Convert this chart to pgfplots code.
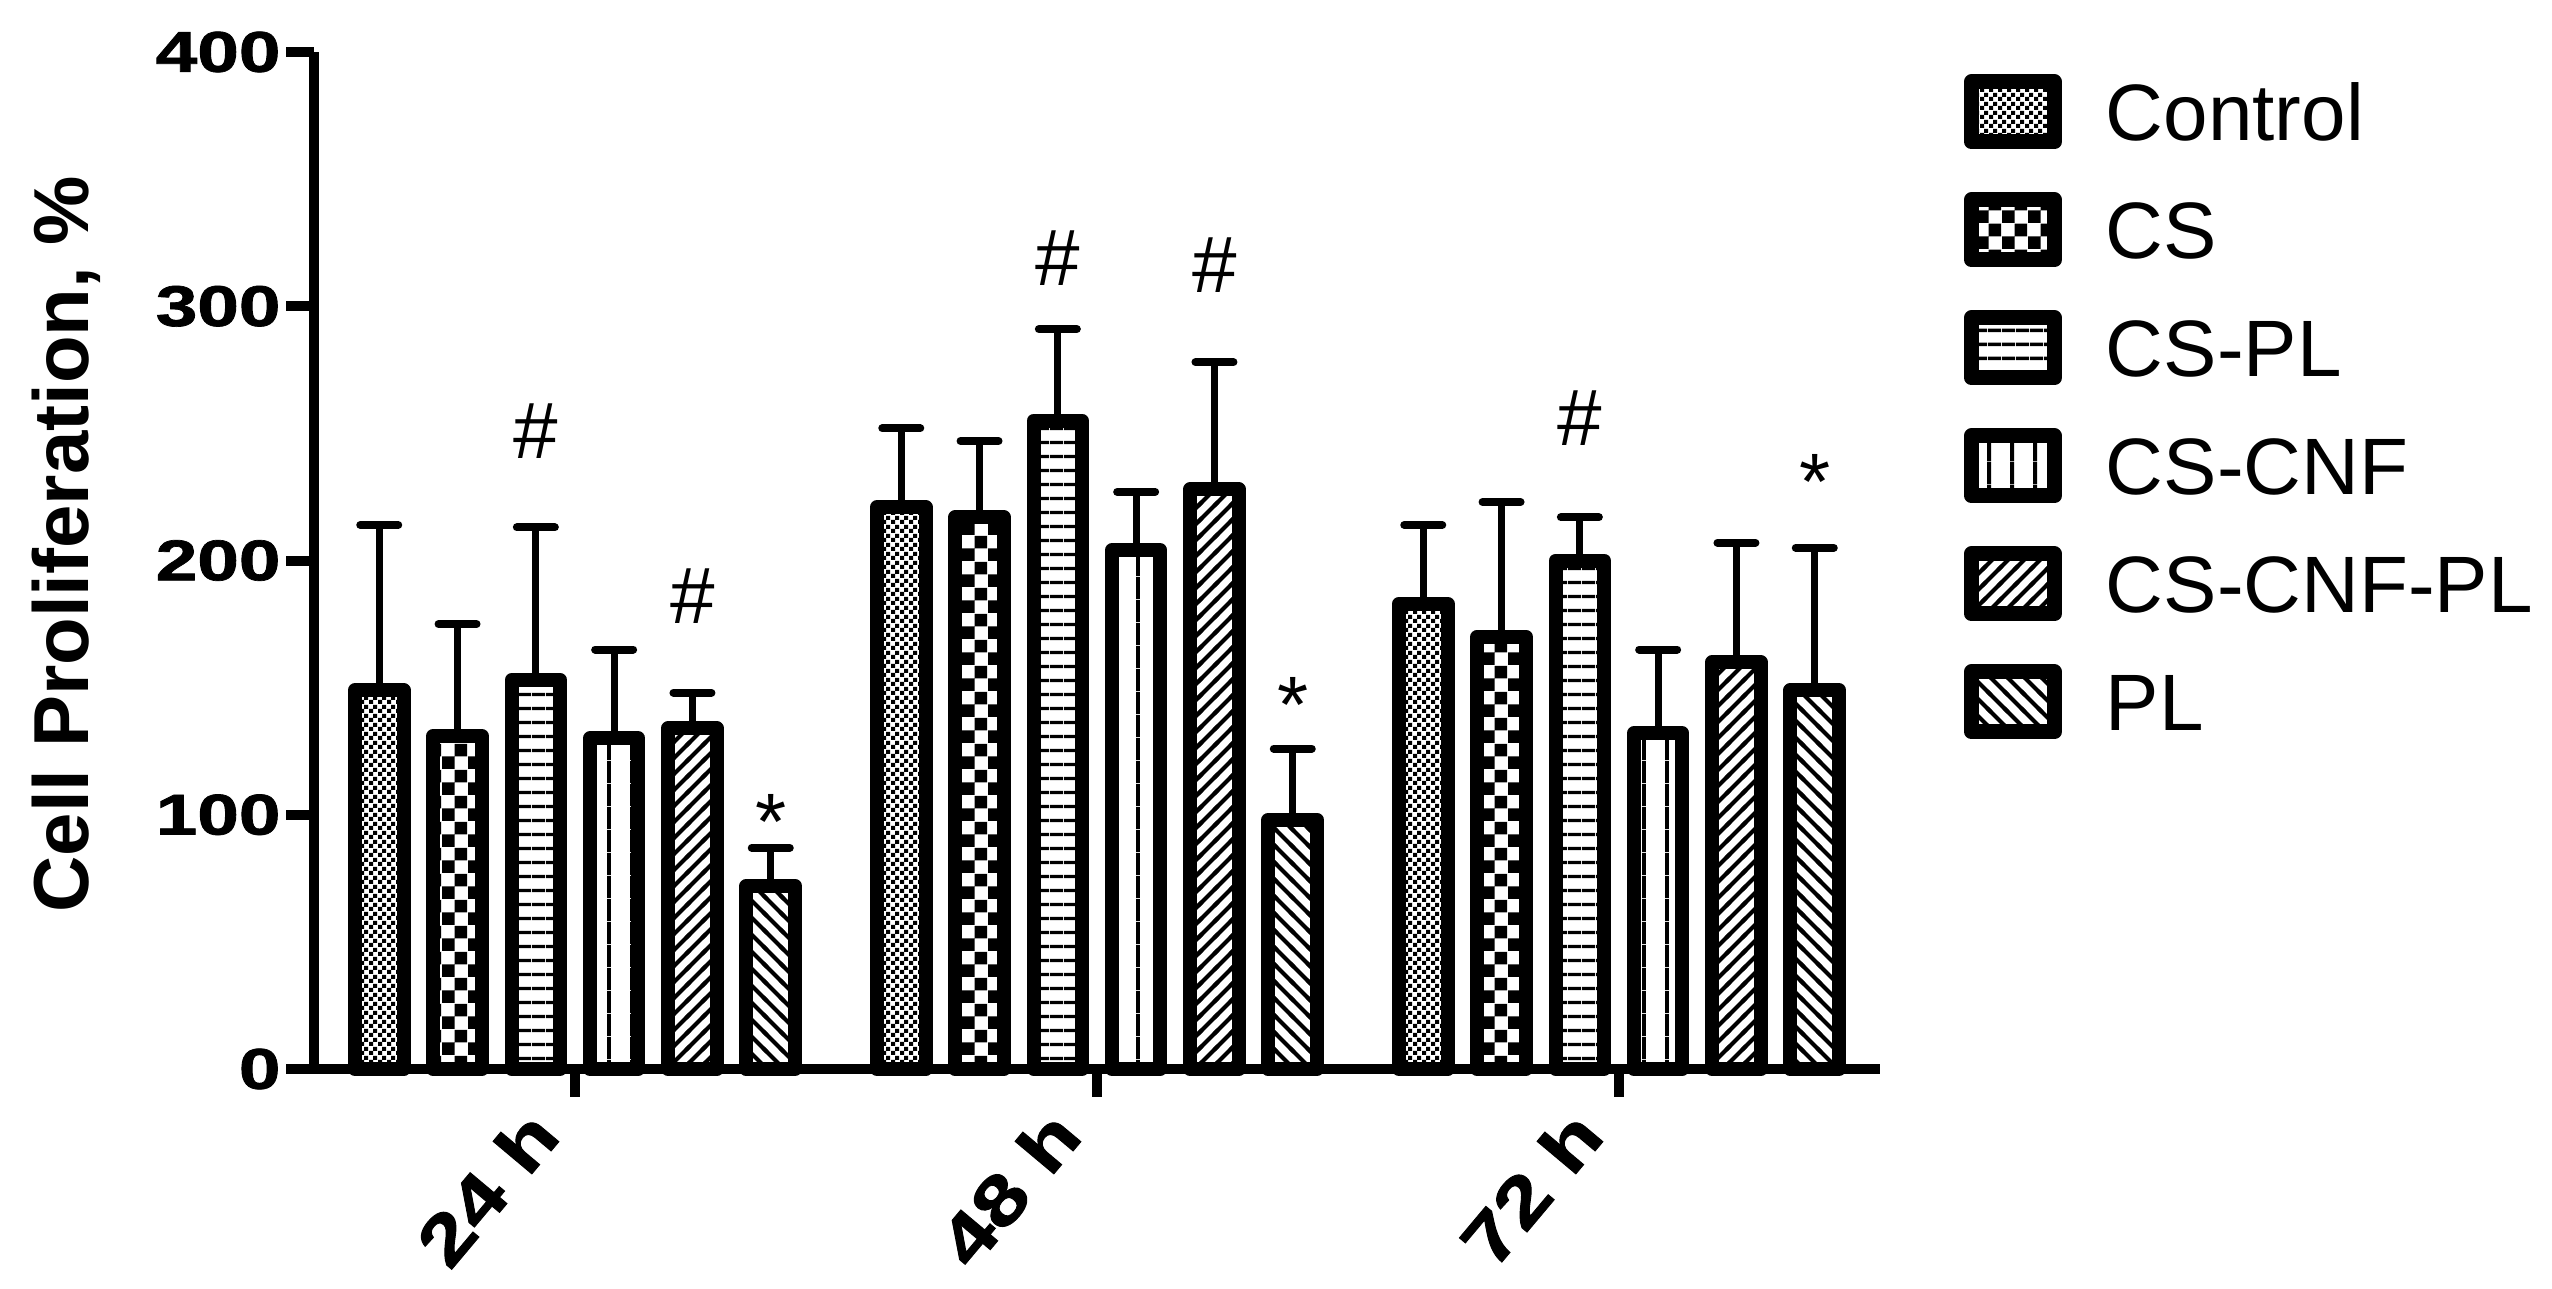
\documentclass[border=0pt]{standalone}
\usepackage{graphicx}
\usepackage{pgfplots}
\pgfplotsset{compat=1.18}
\usepackage{fontspec}
\setmainfont{Liberation Sans}
\newfontface\heavy[FakeBold=1.2]{Liberation Sans Bold}
\usetikzlibrary{patterns}

% custom fill patterns
\pgfdeclarepatternformonly{ctrlcheck}{\pgfpointorigin}{\pgfpoint{1.8pt}{1.8pt}}{\pgfpoint{1.8pt}{1.8pt}}{%
  \pgfpathrectangle{\pgfpointorigin}{\pgfpoint{0.9pt}{0.9pt}}%
  \pgfpathrectangle{\pgfpoint{0.9pt}{0.9pt}}{\pgfpoint{0.9pt}{0.9pt}}%
  \pgfusepath{fill}}
\pgfdeclarepatternformonly{cscheck}{\pgfpointorigin}{\pgfpoint{5.2pt}{5.2pt}}{\pgfpoint{5.2pt}{5.2pt}}{%
  \pgfpathrectangle{\pgfpointorigin}{\pgfpoint{2.6pt}{2.6pt}}%
  \pgfpathrectangle{\pgfpoint{2.6pt}{2.6pt}}{\pgfpoint{2.6pt}{2.6pt}}%
  \pgfusepath{fill}}
\pgfdeclarepatternformonly{hlinesB}{\pgfpointorigin}{\pgfpoint{2.8pt}{2.8pt}}{\pgfpoint{2.8pt}{2.8pt}}{%
  \pgfpathrectangle{\pgfpoint{0pt}{1.05pt}}{\pgfpoint{2.8pt}{0.7pt}}%
  \pgfusepath{fill}}
\pgfdeclarepatternformonly{vlinesB}{\pgfpointorigin}{\pgfpoint{4.6pt}{4.6pt}}{\pgfpoint{4.6pt}{4.6pt}}{%
  \pgfpathrectangle{\pgfpoint{1.9pt}{0pt}}{\pgfpoint{0.8pt}{4.6pt}}%
  \pgfusepath{fill}}
\pgfdeclarepatternformonly{nelinesB}{\pgfpoint{-1pt}{-1pt}}{\pgfpoint{4.2pt}{4.2pt}}{\pgfpoint{3.2pt}{3.2pt}}{%
  \pgfsetlinewidth{0.8pt}%
  \pgfpathmoveto{\pgfpoint{-0.4pt}{-0.4pt}}\pgfpathlineto{\pgfpoint{3.6pt}{3.6pt}}%
  \pgfusepath{stroke}}
\pgfdeclarepatternformonly{nwlinesB}{\pgfpoint{-1pt}{-1pt}}{\pgfpoint{4.4pt}{4.4pt}}{\pgfpoint{3.4pt}{3.4pt}}{%
  \pgfsetlinewidth{0.8pt}%
  \pgfpathmoveto{\pgfpoint{-0.4pt}{3.8pt}}\pgfpathlineto{\pgfpoint{3.8pt}{-0.4pt}}%
  \pgfusepath{stroke}}

\newcommand{\wide}[1]{\scalebox{1.3}[1]{#1}}
\newcommand{\xl}[1]{\scalebox{1.25}[1]{#1}}

\pgfplotsset{
  mybar/.style={
    ybar, bar shift=0pt, bar width=0.093,
    draw=black, line width=2.8pt, line join=round,
    error bars/.cd, y dir=plus, y explicit,
    error bar style={line width=1.4pt, black, line cap=butt},
    error mark=|,
    error mark options={line width=1.6pt, mark size=3.8pt, black, line cap=round},
    /pgfplots/.cd,
    legend image code/.code={%
      \draw[##1, line width=3pt, line join=round] (1.5pt,-6pt) rectangle (18.1pt,6pt);},
  },
}

\begin{document}
\begin{tikzpicture}
\useasboundingbox (0,0) rectangle (510.4pt,257.6pt);
\begin{axis}[
  at={(62.8pt,43.8pt)}, anchor=south west,
  scale only axis, width=313.2pt, height=203.4pt,
  xmin=-0.5, xmax=2.5, ymin=0, ymax=400,
  axis x line=bottom, axis y line=left,
  axis line style={-, line width=2pt},
  tick align=outside, major tick length=5.5pt,
  every tick/.style={black, line width=2pt},
  xtick={0,1,2}, xticklabels={\xl{24 h},\xl{48 h},\xl{72 h}},
  ytick={0,100,200,300,400},
  yticklabels={\wide{0},\wide{100},\wide{200},\wide{300},\wide{400}},
  yticklabel style={font=\heavy\fontsize{11.5}{12}\selectfont, inner sep=1pt},
  xticklabel style={font=\heavy\fontsize{14}{14}\selectfont, rotate=50, anchor=north east, inner sep=1pt, xshift=-6.7pt, yshift=8pt},
  ylabel={Cell Proliferation, \%},
  ylabel style={font=\bfseries\fontsize{15.6}{16}\selectfont, at={(axis description cs:-0.158,0.516)}, anchor=center},
  clip=false,
  legend cell align=left,
  legend style={at={(1.0536,0.978)}, anchor=north west, draw=none, fill=none,
    inner sep=0pt, outer sep=0pt, row sep=8.6pt,
    font=\fontsize{16}{16}\selectfont,
    nodes={inner sep=0pt, text height=11.5pt, text depth=0pt},
    /tikz/every odd column/.append style={column sep=8.8pt}},
]
\addplot[mybar, pattern=ctrlcheck] coordinates {(-0.375,149) +- (0,65) (0.625,221) +- (0,31) (1.625,183) +- (0,31)};
\addlegendentry{Control}
\addplot[mybar, pattern=cscheck] coordinates {(-0.225,131) +- (0,44) (0.775,217) +- (0,30) (1.775,170) +- (0,53)};
\addlegendentry{CS}
\addplot[mybar, pattern=hlinesB] coordinates {(-0.075,153) +- (0,60) (0.925,255) +- (0,36) (1.925,200) +- (0,17)};
\addlegendentry{CS-PL}
\addplot[mybar, pattern=vlinesB] coordinates {(0.075,130) +- (0,35) (1.075,204) +- (0,23) (2.075,132) +- (0,33)};
\addlegendentry{CS-CNF}
\addplot[mybar, pattern=nelinesB] coordinates {(0.225,134) +- (0,14) (1.225,228) +- (0,50) (2.225,160) +- (0,47)};
\addlegendentry{CS-CNF-PL}
\addplot[mybar, pattern=nwlinesB] coordinates {(0.375,72) +- (0,15) (1.375,98) +- (0,28) (2.375,149) +- (0,56)};
\addlegendentry{PL}

\node[font=\fontsize{16}{16}\selectfont] at (axis cs:-0.075,251) {\#};
\node[font=\fontsize{16}{16}\selectfont] at (axis cs:0.225,186) {\#};
\node[font=\fontsize{16}{16}\selectfont] at (axis cs:0.375,97) {*};
\node[font=\fontsize{16}{16}\selectfont] at (axis cs:0.925,319) {\#};
\node[font=\fontsize{16}{16}\selectfont] at (axis cs:1.225,316) {\#};
\node[font=\fontsize{16}{16}\selectfont] at (axis cs:1.375,143) {*};
\node[font=\fontsize{16}{16}\selectfont] at (axis cs:1.925,256) {\#};
\node[font=\fontsize{16}{16}\selectfont] at (axis cs:2.375,231) {*};
\end{axis}
\end{tikzpicture}
\end{document}
